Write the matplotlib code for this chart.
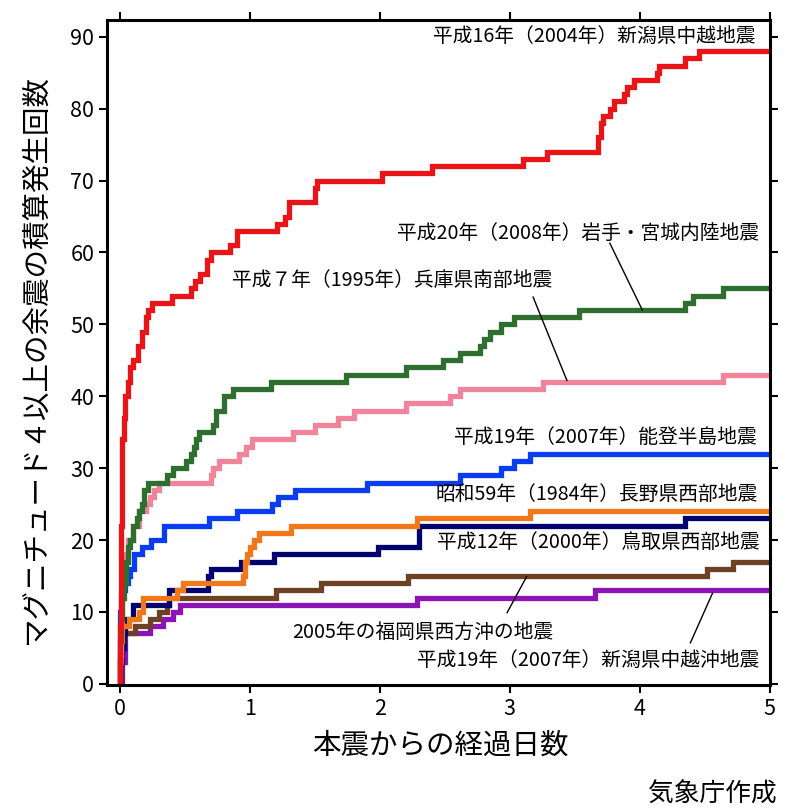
import matplotlib
matplotlib.use('Agg')
import matplotlib.pyplot as plt

plt.rcParams['font.family'] = ['Noto Sans CJK JP', 'DejaVu Sans']

# 経過日数と積算回数 (階段状)
t_chuetsu = [0, 0.004, 0.008, 0.012, 0.016, 0.02, 0.03, 0.04, 0.06, 0.08, 0.1, 0.14, 0.17, 0.2, 0.22, 0.25,
             0.4, 0.55, 0.58, 0.62, 0.67, 0.7, 0.85, 0.9, 1.21, 1.27, 1.3, 1.5, 1.52, 2.02, 2.4, 3.1, 3.29,
             3.68, 3.7, 3.72, 3.77, 3.8, 3.88, 3.9, 3.96, 4.13, 4.15, 4.35, 4.46, 5]
n_chuetsu = [0, 8, 15, 22, 28, 34, 37, 40, 42, 44, 45, 47, 49, 51, 52, 53,
             54, 55, 56, 57, 59, 60, 61, 63, 64, 65, 67, 69, 70, 71, 72, 73, 74,
             76, 78, 79, 80, 81, 82, 83, 84, 85, 86, 87, 88, 88]

t_iwate = [0, 0.002, 0.005, 0.01, 0.02, 0.03, 0.045, 0.06, 0.08, 0.1, 0.13, 0.15, 0.17, 0.19, 0.22, 0.36,
           0.41, 0.51, 0.55, 0.57, 0.59, 0.61, 0.72, 0.74, 0.8, 0.87, 1.16, 1.74, 2.2, 2.49, 2.62, 2.77,
           2.8, 2.85, 2.93, 3.03, 3.53, 4.35, 4.41, 4.64, 5]
n_iwate = [0, 3, 6, 9, 12, 14, 17, 19, 20, 22, 23, 24, 25, 27, 28, 29,
           30, 31, 32, 33, 34, 35, 36, 38, 40, 41, 42, 43, 44, 45, 46, 47,
           48, 49, 50, 51, 52, 53, 54, 55, 55]

t_kobe = [0, 0.003, 0.008, 0.015, 0.025, 0.04, 0.06, 0.1, 0.15, 0.2, 0.23, 0.26, 0.3, 0.7, 0.72, 0.76,
          0.92, 0.97, 1.02, 1.33, 1.5, 1.68, 1.8, 2.2, 2.54, 2.62, 3.26, 4.64, 5]
n_kobe = [0, 4, 8, 12, 15, 18, 20, 22, 24, 25, 26, 27, 28, 29, 30, 31,
          32, 33, 34, 35, 36, 37, 38, 39, 40, 41, 42, 43, 43]

t_noto = [0, 0.002, 0.005, 0.01, 0.02, 0.04, 0.06, 0.08, 0.11, 0.17, 0.24, 0.34, 0.69, 0.9, 1.17, 1.22,
          1.35, 1.9, 2.62, 2.93, 3.03, 3.16, 5]
n_noto = [0, 6, 10, 12, 13, 14, 15, 16, 18, 19, 20, 22, 23, 24, 25, 26,
          27, 28, 29, 30, 31, 32, 32]

t_nagano = [0, 0.005, 0.01, 0.02, 0.07, 0.15, 0.18, 0.44, 0.49, 0.95, 0.96, 0.98, 1.0, 1.03, 1.07, 1.32,
            2.29, 3.16, 5]
n_nagano = [0, 3, 6, 8, 9, 10, 12, 13, 14, 15, 17, 18, 19, 20, 21, 22,
            23, 24, 24]

t_tottori = [0, 0.01, 0.02, 0.03, 0.04, 0.1, 0.38, 0.68, 0.7, 0.93, 1.19, 1.99, 2.3, 4.35, 5]
n_tottori = [0, 3, 5, 7, 9, 11, 13, 15, 16, 17, 18, 19, 22, 23, 23]

t_fukuoka = [0, 0.005, 0.01, 0.03, 0.12, 0.23, 0.3, 0.36, 0.38, 1.2, 1.55, 2.22, 4.52, 4.72, 5]
n_fukuoka = [0, 3, 5, 7, 8, 9, 10, 11, 12, 13, 14, 15, 16, 17, 17]

t_chuetsuoki = [0, 0.02, 0.04, 0.23, 0.33, 0.41, 0.46, 2.29, 3.66, 5]
n_chuetsuoki = [0, 3, 7, 8, 9, 10, 11, 12, 13, 13]

fig = plt.figure(figsize=(7.87, 8.10), dpi=100)
ax = fig.add_axes([0.1356, 0.154, 0.8424, 0.821])

lw = 3.8
kw = dict(drawstyle='steps-post', lw=lw, solid_joinstyle='miter', solid_capstyle='butt')
ax.plot(t_chuetsuoki, n_chuetsuoki, color='#8c14b4', **kw)
ax.plot(t_fukuoka, n_fukuoka, color='#6e4124', **kw)
ax.plot(t_tottori, n_tottori, color='#00006e', **kw)
ax.plot(t_nagano, n_nagano, color='#f07818', **kw)
ax.plot(t_noto, n_noto, color='#0a3cf0', **kw)
ax.plot(t_kobe, n_kobe, color='#f0849a', **kw)
ax.plot(t_iwate, n_iwate, color='#2e6e2e', **kw)
ax.plot(t_chuetsu, n_chuetsu, color='#e81418', **kw)

ax.set_xlim(-0.1, 5)
ax.set_ylim(-0.2, 92.3)
ax.set_xticks([0, 1, 2, 3, 4, 5])
ax.set_yticks(range(0, 91, 10))
ax.tick_params(direction='out', length=6, width=1.5, labelsize=15.5, top=True, right=True,
               labeltop=False, labelright=False, pad=3)
for s in ax.spines.values():
    s.set_linewidth(2.2)

fs = 14.2
ax.text(4.89, 90, '平成16年（2004年）新潟県中越地震', ha='right', va='center', fontsize=fs)
ax.text(4.92, 62.6, '平成20年（2008年）岩手・宮城内陸地震', ha='right', va='center', fontsize=fs)
ax.text(0.86, 56.1, '平成７年（1995年）兵庫県南部地震', ha='left', va='center', fontsize=fs)
ax.text(4.9, 34.2, '平成19年（2007年）能登半島地震', ha='right', va='center', fontsize=fs)
ax.text(4.91, 26.3, '昭和59年（1984年）長野県西部地震', ha='right', va='center', fontsize=fs)
ax.text(4.92, 19.7, '平成12年（2000年）鳥取県西部地震', ha='right', va='center', fontsize=fs)
ax.text(1.33, 7.2, '2005年の福岡県西方沖の地震', ha='left', va='center', fontsize=fs)
ax.text(4.92, 3.3, '平成19年（2007年）新潟県中越沖地震', ha='right', va='center', fontsize=fs)

# 引き出し線
ax.plot([3.77, 4.02], [61.3, 52], color='black', lw=1)
ax.plot([3.18, 3.44], [53.8, 42.2], color='black', lw=1)
ax.plot([2.98, 3.13], [9.9, 14.9], color='black', lw=1)
ax.plot([4.39, 4.56], [5.7, 12.6], color='black', lw=1)

fig.text(0.56, 0.080, '本震からの経過日数', ha='center', va='center', fontsize=20.5)
fig.text(0.045, 0.556, 'マグニチュード４以上の余震の積算発生回数', ha='center', va='center',
         rotation=90, fontsize=20.5)
fig.text(0.987, 0.0185, '気象庁作成', ha='right', va='center', fontsize=18.5)

fig.savefig('out.png', dpi=100)
